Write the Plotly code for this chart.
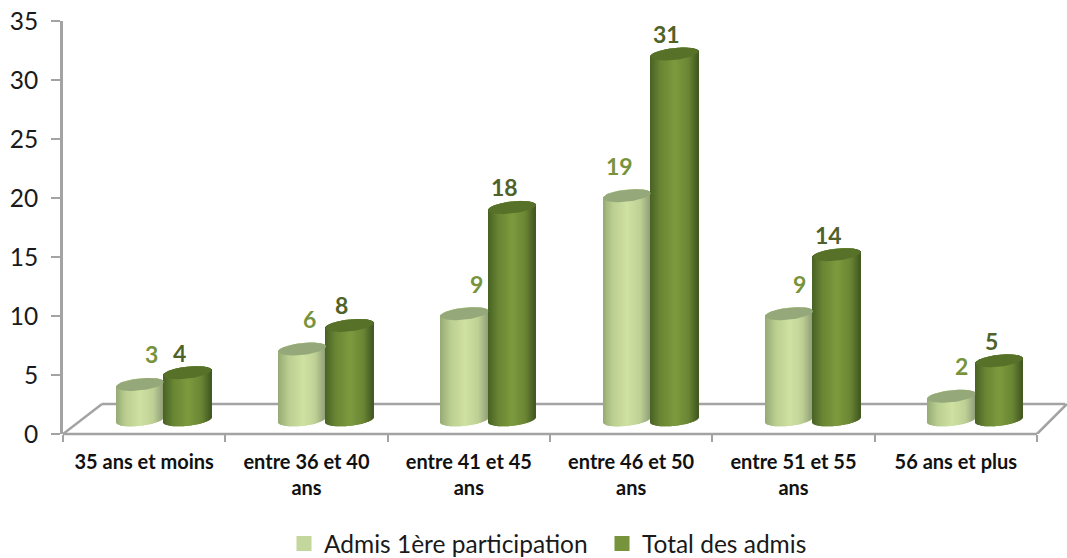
import numpy as np
import plotly.graph_objects as go

categories = ["35 ans et moins", "entre 36 et 40<br>ans", "entre 41 et 45<br>ans",
              "entre 46 et 50<br>ans", "entre 51 et 55<br>ans", "56 ans et plus"]
admis_1ere = [3, 6, 9, 19, 9, 2]
total_admis = [4, 8, 18, 31, 14, 5]
y_ticks = [0, 5, 10, 15, 20, 25, 30, 35]
series_names = ["Admis 1ère participation", "Total des admis"]

W, H = 1067, 558
L, T, B = 63, 21, 124
CAT_PX = 162.33
UNIT_PX = (H - T - B) / 35.0
FONT = "Lato"
GREY = "#a3a3a3"

GROUP_SHIFT = 19.5 / CAT_PX
BAR_W = 47.5 / CAT_PX
FLOOR = 1.2
RY = 6 / UNIT_PX
TILT = 2.5 / UNIT_PX
N = 48


def mix(stops, t):
    xs = [s[0] for s in stops]
    c = [np.interp(t, xs, [s[1][k] for s in stops]) for k in range(3)]
    return "rgb(%d,%d,%d)" % (c[0], c[1], c[2])


LIGHT_STOPS = [(-1, (150, 170, 118)), (-0.55, (187, 207, 145)), (0.05, (208, 226, 162)),
               (0.6, (190, 208, 148)), (1, (146, 160, 122))]
DARK_STOPS = [(-1, (72, 98, 36)), (-0.55, (106, 134, 52)), (0.05, (125, 155, 62)),
              (0.6, (106, 134, 52)), (1, (66, 88, 34))]


def cylinder_trace(values, side, stops):
    ts = (np.arange(N) + 0.5) / N * 2 - 1
    xs, bases, heights, colors = [], [], [], []
    for i, v in enumerate(values):
        cx = i + 0.5 + GROUP_SHIFT + side * BAR_W / 2
        top_c = v + FLOOR
        for t in ts:
            bulge = RY * np.sqrt(1 - t * t)
            lo = FLOOR - bulge + TILT * t
            hi = top_c + TILT * t + bulge
            xs.append(cx + t * BAR_W / 2)
            bases.append(lo)
            heights.append(hi - lo)
            colors.append(mix(stops, t))
    return go.Bar(x=xs, y=heights, base=bases, width=BAR_W / N * 1.25,
                  marker=dict(color=colors, line=dict(width=0)),
                  showlegend=False, hoverinfo="skip")


def cap_trace(value, i, side, color):
    cx = i + 0.5 + GROUP_SHIFT + side * BAR_W / 2
    a = np.linspace(0, 2 * np.pi, 60)
    t = np.cos(a)
    return go.Scatter(x=cx + t * BAR_W / 2,
                      y=value + FLOOR + TILT * t + RY * np.sin(a),
                      mode="lines", fill="toself", fillcolor=color,
                      line=dict(width=0, color=color),
                      showlegend=False, hoverinfo="skip")


fig = go.Figure()
fig.add_trace(cylinder_trace(admis_1ere, -1, LIGHT_STOPS))
fig.add_trace(cylinder_trace(total_admis, 1, DARK_STOPS))
for i, v in enumerate(admis_1ere):
    fig.add_trace(cap_trace(v, i, -1, "#94a87a"))
for i, v in enumerate(total_admis):
    fig.add_trace(cap_trace(v, i, 1, "#587129"))

for name, col in zip(series_names, ["#c3d69b", "#77933c"]):
    fig.add_trace(go.Scatter(x=[None], y=[None], mode="markers", name=name,
                             marker=dict(symbol="square", size=15, color=col)))

light_dx = [12, 7, 12, -7, 10, 10]
annotations = []
for i, (a, b) in enumerate(zip(admis_1ere, total_admis)):
    annotations.append(dict(x=i + 0.5 + GROUP_SHIFT - BAR_W / 2, y=a + FLOOR, xref="x", yref="y",
                            text=str(a), showarrow=False, xshift=light_dx[i], yshift=30,
                            font=dict(family=FONT, size=23, color="#77933c", weight="bold")))
    annotations.append(dict(x=i + 0.5 + GROUP_SHIFT + BAR_W / 2, y=b + FLOOR, xref="x", yref="y",
                            text=str(b), showarrow=False, xshift=-8, yshift=20,
                            font=dict(family=FONT, size=23, color="#4f6228", weight="bold")))

back_x0 = 39 / CAT_PX
back_x1 = (1065 - L) / CAT_PX
back_y = (434 - 404) / UNIT_PX
line = dict(color=GREY, width=2.5)
shapes = [
    dict(type="line", layer="below", xref="x", yref="y", x0=0, y0=0, x1=back_x0, y1=back_y, line=line),
    dict(type="line", layer="below", xref="x", yref="y", x0=back_x0, y0=back_y, x1=back_x1, y1=back_y, line=line),
    dict(type="line", layer="below", xref="x", yref="y", x0=6, y0=0, x1=back_x1 + 0.012, y1=back_y, line=line),
    dict(type="line", layer="below", xref="x", yref="paper", x0=0, y0=0, x1=6, y1=0, line=line),
]

fig.update_layout(
    width=W, height=H, margin=dict(l=L, r=0, t=T, b=B),
    paper_bgcolor="white", plot_bgcolor="white",
    barmode="overlay", shapes=shapes, annotations=annotations,
    showlegend=True,
    legend=dict(orientation="h", xref="paper", yref="container", x=(284 - L) / (W - L), y=0.066,
                xanchor="left", yanchor="top", entrywidth=273, entrywidthmode="pixels",
                font=dict(family=FONT, size=24.5, color="#1a1a1a"), bgcolor="rgba(0,0,0,0)"),
    xaxis=dict(range=[0, (W - L) / CAT_PX], tickmode="array",
               tickvals=[i + 0.5 for i in range(len(categories))], ticktext=categories,
               ticks="", showgrid=False, zeroline=False, showline=False,
               tickfont=dict(family=FONT, size=20, color="#111111", weight="bold"),
               ticklabelstandoff=14,
               minor=dict(tickmode="array", tickvals=list(range(7)), ticks="outside",
                          ticklen=7, tickwidth=2, tickcolor=GREY, showgrid=False)),
    yaxis=dict(range=[0, 35], tickmode="array", tickvals=y_ticks, ticks="outside", ticklen=9,
               tickwidth=2, tickcolor=GREY, showgrid=False, zeroline=False,
               showline=True, linecolor=GREY, linewidth=3, ticklabelstandoff=8,
               tickfont=dict(family=FONT, size=24.5, color="#1a1a1a")),
)

fig.write_html("out.html", config={"displayModeBar": False},
               post_script="document.body.style.margin='0';document.body.style.overflow='hidden';")
